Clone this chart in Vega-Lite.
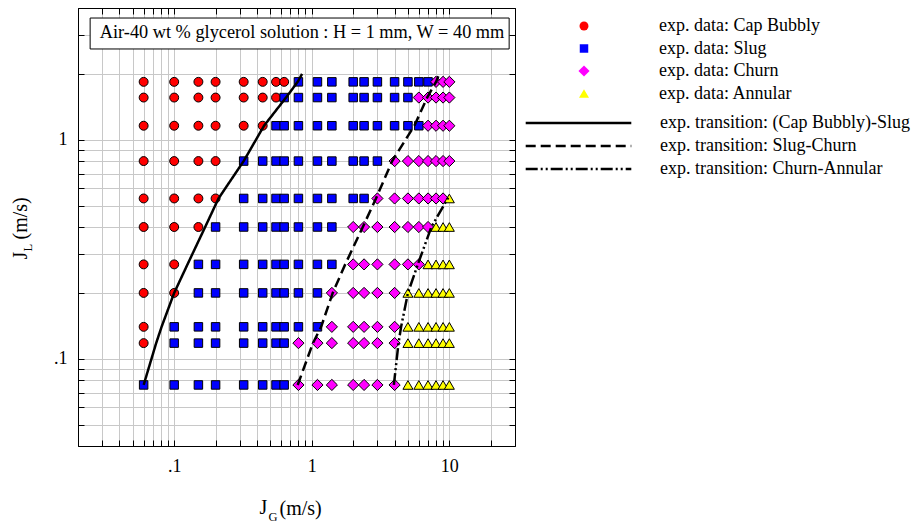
{
  "$schema": "https://vega.github.io/schema/vega-lite/v6.json",
  "width": 437,
  "height": 438,
  "padding": {"left": 10, "top": 7, "right": 5, "bottom": 2},
  "background": "white",
  "config": {
    "font": "Liberation Serif",
    "view": {"stroke": "black", "strokeWidth": 1},
    "axis": {"domainColor": "black", "domainWidth": 1, "tickColor": "black", "tickWidth": 1, "labelColor": "black", "titleColor": "black", "titleFontWeight": "normal", "labelFont": "Liberation Serif", "titleFont": "Liberation Serif"}
  },
  "datasets": {
    "pts": [
      {"x":0.06,"y":1.84,"r":"C"},{"x":0.1,"y":1.84,"r":"C"},{"x":0.15,"y":1.84,"r":"C"},{"x":0.2,"y":1.84,"r":"C"},{"x":0.32,"y":1.84,"r":"C"},{"x":0.44,"y":1.84,"r":"C"},{"x":0.55,"y":1.84,"r":"C"},{"x":0.63,"y":1.84,"r":"C"},
      {"x":0.8,"y":1.84,"r":"S"},{"x":1.1,"y":1.84,"r":"S"},{"x":1.4,"y":1.84,"r":"S"},{"x":2,"y":1.84,"r":"S"},{"x":2.4,"y":1.84,"r":"S"},{"x":3,"y":1.84,"r":"S"},{"x":4,"y":1.84,"r":"S"},{"x":5,"y":1.84,"r":"S"},{"x":6,"y":1.84,"r":"S"},{"x":7,"y":1.84,"r":"S"},
      {"x":8,"y":1.84,"r":"H"},{"x":9,"y":1.84,"r":"H"},{"x":10,"y":1.84,"r":"H"},

      {"x":0.06,"y":1.56,"r":"C"},{"x":0.1,"y":1.56,"r":"C"},{"x":0.15,"y":1.56,"r":"C"},{"x":0.2,"y":1.56,"r":"C"},{"x":0.32,"y":1.56,"r":"C"},{"x":0.44,"y":1.56,"r":"C"},{"x":0.55,"y":1.56,"r":"C"},
      {"x":0.63,"y":1.56,"r":"S"},{"x":0.8,"y":1.56,"r":"S"},{"x":1.1,"y":1.56,"r":"S"},{"x":1.4,"y":1.56,"r":"S"},{"x":2,"y":1.56,"r":"S"},{"x":2.4,"y":1.56,"r":"S"},{"x":3,"y":1.56,"r":"S"},{"x":4,"y":1.56,"r":"S"},{"x":5,"y":1.56,"r":"S"},
      {"x":6,"y":1.56,"r":"H"},{"x":7,"y":1.56,"r":"H"},{"x":8,"y":1.56,"r":"H"},{"x":9,"y":1.56,"r":"H"},{"x":10,"y":1.56,"r":"H"},

      {"x":0.06,"y":1.16,"r":"C"},{"x":0.1,"y":1.16,"r":"C"},{"x":0.15,"y":1.16,"r":"C"},{"x":0.2,"y":1.16,"r":"C"},{"x":0.32,"y":1.16,"r":"C"},{"x":0.44,"y":1.16,"r":"C"},
      {"x":0.55,"y":1.16,"r":"S"},{"x":0.63,"y":1.16,"r":"S"},{"x":0.8,"y":1.16,"r":"S"},{"x":1.1,"y":1.16,"r":"S"},{"x":1.4,"y":1.16,"r":"S"},{"x":2,"y":1.16,"r":"S"},{"x":2.4,"y":1.16,"r":"S"},{"x":3,"y":1.16,"r":"S"},{"x":4,"y":1.16,"r":"S"},{"x":5,"y":1.16,"r":"S"},{"x":6,"y":1.16,"r":"S"},
      {"x":7,"y":1.16,"r":"H"},{"x":8,"y":1.16,"r":"H"},{"x":9,"y":1.16,"r":"H"},{"x":10,"y":1.16,"r":"H"},

      {"x":0.06,"y":0.8,"r":"C"},{"x":0.1,"y":0.8,"r":"C"},{"x":0.15,"y":0.8,"r":"C"},{"x":0.2,"y":0.8,"r":"C"},
      {"x":0.32,"y":0.8,"r":"S"},{"x":0.44,"y":0.8,"r":"S"},{"x":0.55,"y":0.8,"r":"S"},{"x":0.63,"y":0.8,"r":"S"},{"x":0.8,"y":0.8,"r":"S"},{"x":1.1,"y":0.8,"r":"S"},{"x":1.4,"y":0.8,"r":"S"},{"x":2,"y":0.8,"r":"S"},{"x":2.4,"y":0.8,"r":"S"},{"x":3,"y":0.8,"r":"S"},
      {"x":4,"y":0.8,"r":"H"},{"x":5,"y":0.8,"r":"H"},{"x":6,"y":0.8,"r":"H"},{"x":7,"y":0.8,"r":"H"},{"x":8,"y":0.8,"r":"H"},{"x":9,"y":0.8,"r":"H"},{"x":10,"y":0.8,"r":"H"},

      {"x":0.06,"y":0.54,"r":"C"},{"x":0.1,"y":0.54,"r":"C"},{"x":0.15,"y":0.54,"r":"C"},{"x":0.2,"y":0.54,"r":"C"},
      {"x":0.32,"y":0.54,"r":"S"},{"x":0.44,"y":0.54,"r":"S"},{"x":0.55,"y":0.54,"r":"S"},{"x":0.63,"y":0.54,"r":"S"},{"x":0.8,"y":0.54,"r":"S"},{"x":1.1,"y":0.54,"r":"S"},{"x":1.4,"y":0.54,"r":"S"},{"x":2,"y":0.54,"r":"S"},{"x":2.4,"y":0.54,"r":"S"},
      {"x":3,"y":0.54,"r":"H"},{"x":4,"y":0.54,"r":"H"},{"x":5,"y":0.54,"r":"H"},{"x":6,"y":0.54,"r":"H"},{"x":7,"y":0.54,"r":"H"},{"x":8,"y":0.54,"r":"H"},{"x":9,"y":0.54,"r":"H"},
      {"x":10,"y":0.54,"r":"A"},

      {"x":0.06,"y":0.4,"r":"C"},{"x":0.1,"y":0.4,"r":"C"},{"x":0.15,"y":0.4,"r":"C"},
      {"x":0.2,"y":0.4,"r":"S"},{"x":0.32,"y":0.4,"r":"S"},{"x":0.44,"y":0.4,"r":"S"},{"x":0.55,"y":0.4,"r":"S"},{"x":0.63,"y":0.4,"r":"S"},{"x":0.8,"y":0.4,"r":"S"},{"x":1.1,"y":0.4,"r":"S"},{"x":1.4,"y":0.4,"r":"S"},
      {"x":2,"y":0.4,"r":"H"},{"x":2.4,"y":0.4,"r":"H"},{"x":3,"y":0.4,"r":"H"},{"x":4,"y":0.4,"r":"H"},{"x":5,"y":0.4,"r":"H"},{"x":6,"y":0.4,"r":"H"},{"x":7,"y":0.4,"r":"H"},
      {"x":8,"y":0.4,"r":"A"},{"x":9,"y":0.4,"r":"A"},{"x":10,"y":0.4,"r":"A"},

      {"x":0.06,"y":0.27,"r":"C"},{"x":0.1,"y":0.27,"r":"C"},
      {"x":0.15,"y":0.27,"r":"S"},{"x":0.2,"y":0.27,"r":"S"},{"x":0.32,"y":0.27,"r":"S"},{"x":0.44,"y":0.27,"r":"S"},{"x":0.55,"y":0.27,"r":"S"},{"x":0.63,"y":0.27,"r":"S"},{"x":0.8,"y":0.27,"r":"S"},{"x":1.1,"y":0.27,"r":"S"},{"x":1.4,"y":0.27,"r":"S"},
      {"x":2,"y":0.27,"r":"H"},{"x":2.4,"y":0.27,"r":"H"},{"x":3,"y":0.27,"r":"H"},{"x":4,"y":0.27,"r":"H"},{"x":5,"y":0.27,"r":"H"},{"x":6,"y":0.27,"r":"H"},
      {"x":7,"y":0.27,"r":"A"},{"x":8,"y":0.27,"r":"A"},{"x":9,"y":0.27,"r":"A"},{"x":10,"y":0.27,"r":"A"},

      {"x":0.06,"y":0.2,"r":"C"},{"x":0.1,"y":0.2,"r":"C"},
      {"x":0.15,"y":0.2,"r":"S"},{"x":0.2,"y":0.2,"r":"S"},{"x":0.32,"y":0.2,"r":"S"},{"x":0.44,"y":0.2,"r":"S"},{"x":0.55,"y":0.2,"r":"S"},{"x":0.63,"y":0.2,"r":"S"},{"x":0.8,"y":0.2,"r":"S"},{"x":1.1,"y":0.2,"r":"S"},
      {"x":1.4,"y":0.2,"r":"H"},{"x":2,"y":0.2,"r":"H"},{"x":2.4,"y":0.2,"r":"H"},{"x":3,"y":0.2,"r":"H"},{"x":4,"y":0.2,"r":"H"},
      {"x":5,"y":0.2,"r":"A"},{"x":6,"y":0.2,"r":"A"},{"x":7,"y":0.2,"r":"A"},{"x":8,"y":0.2,"r":"A"},{"x":9,"y":0.2,"r":"A"},{"x":10,"y":0.2,"r":"A"},

      {"x":0.06,"y":0.14,"r":"C"},
      {"x":0.1,"y":0.14,"r":"S"},{"x":0.15,"y":0.14,"r":"S"},{"x":0.2,"y":0.14,"r":"S"},{"x":0.32,"y":0.14,"r":"S"},{"x":0.44,"y":0.14,"r":"S"},{"x":0.55,"y":0.14,"r":"S"},{"x":0.63,"y":0.14,"r":"S"},{"x":0.8,"y":0.14,"r":"S"},{"x":1.1,"y":0.14,"r":"S"},
      {"x":1.4,"y":0.14,"r":"H"},{"x":2,"y":0.14,"r":"H"},{"x":2.4,"y":0.14,"r":"H"},{"x":3,"y":0.14,"r":"H"},{"x":4,"y":0.14,"r":"H"},
      {"x":5,"y":0.14,"r":"A"},{"x":6,"y":0.14,"r":"A"},{"x":7,"y":0.14,"r":"A"},{"x":8,"y":0.14,"r":"A"},{"x":9,"y":0.14,"r":"A"},{"x":10,"y":0.14,"r":"A"},

      {"x":0.06,"y":0.118,"r":"C"},
      {"x":0.1,"y":0.118,"r":"S"},{"x":0.15,"y":0.118,"r":"S"},{"x":0.2,"y":0.118,"r":"S"},{"x":0.32,"y":0.118,"r":"S"},{"x":0.44,"y":0.118,"r":"S"},{"x":0.55,"y":0.118,"r":"S"},{"x":0.63,"y":0.118,"r":"S"},
      {"x":0.8,"y":0.118,"r":"H"},{"x":1.1,"y":0.118,"r":"H"},{"x":1.4,"y":0.118,"r":"H"},{"x":2,"y":0.118,"r":"H"},{"x":2.4,"y":0.118,"r":"H"},{"x":3,"y":0.118,"r":"H"},{"x":4,"y":0.118,"r":"H"},
      {"x":5,"y":0.118,"r":"A"},{"x":6,"y":0.118,"r":"A"},{"x":7,"y":0.118,"r":"A"},{"x":8,"y":0.118,"r":"A"},{"x":9,"y":0.118,"r":"A"},{"x":10,"y":0.118,"r":"A"},

      {"x":0.06,"y":0.076,"r":"S"},{"x":0.1,"y":0.076,"r":"S"},{"x":0.15,"y":0.076,"r":"S"},{"x":0.2,"y":0.076,"r":"S"},{"x":0.32,"y":0.076,"r":"S"},{"x":0.44,"y":0.076,"r":"S"},{"x":0.55,"y":0.076,"r":"S"},{"x":0.63,"y":0.076,"r":"S"},
      {"x":0.8,"y":0.076,"r":"H"},{"x":1.1,"y":0.076,"r":"H"},{"x":1.4,"y":0.076,"r":"H"},{"x":2,"y":0.076,"r":"H"},{"x":2.4,"y":0.076,"r":"H"},{"x":3,"y":0.076,"r":"H"},{"x":4,"y":0.076,"r":"H"},
      {"x":5,"y":0.076,"r":"A"},{"x":6,"y":0.076,"r":"A"},{"x":7,"y":0.076,"r":"A"},{"x":8,"y":0.076,"r":"A"},{"x":9,"y":0.076,"r":"A"},{"x":10,"y":0.076,"r":"A"}
    ],
    "lines": [
      {"x":0.06,"y":0.076,"t":"CBS"},{"x":0.074,"y":0.118,"t":"CBS"},{"x":0.081,"y":0.14,"t":"CBS"},{"x":0.1,"y":0.2,"t":"CBS"},{"x":0.125,"y":0.27,"t":"CBS"},{"x":0.168,"y":0.4,"t":"CBS"},{"x":0.21,"y":0.54,"t":"CBS"},{"x":0.32,"y":0.8,"t":"CBS"},{"x":0.45,"y":1.16,"t":"CBS"},{"x":0.65,"y":1.56,"t":"CBS"},{"x":0.79,"y":1.84,"t":"CBS"},{"x":0.85,"y":2.0,"t":"CBS"},
      {"x":0.79,"y":0.076,"t":"SC"},{"x":1.02,"y":0.118,"t":"SC"},{"x":1.17,"y":0.14,"t":"SC"},{"x":1.42,"y":0.2,"t":"SC"},{"x":1.75,"y":0.27,"t":"SC"},{"x":2.35,"y":0.4,"t":"SC"},{"x":2.93,"y":0.54,"t":"SC"},{"x":3.84,"y":0.8,"t":"SC"},{"x":5.57,"y":1.16,"t":"SC"},{"x":6.9,"y":1.56,"t":"SC"},{"x":8.0,"y":1.84,"t":"SC"},{"x":8.45,"y":2.0,"t":"SC"},
      {"x":3.95,"y":0.076,"t":"CA"},{"x":4.27,"y":0.118,"t":"CA"},{"x":4.46,"y":0.14,"t":"CA"},{"x":5.0,"y":0.2,"t":"CA"},{"x":5.9,"y":0.27,"t":"CA"},{"x":7.4,"y":0.4,"t":"CA"},{"x":9.9,"y":0.55,"t":"CA"}
    ]
  },
  "resolve": {"axis": {"x": "independent", "y": "independent"}},
  "layer": [
    {
      "data": {"name": "pts"},
      "mark": {"type": "point", "filled": true, "stroke": "black", "strokeWidth": 1, "opacity": 1},
      "encoding": {
        "x": {"field": "x", "type": "quantitative",
          "scale": {"type": "log", "domain": [0.02, 30], "nice": false, "zero": false},
          "axis": {"orient": "bottom", "values": [0.03,0.04,0.05,0.06,0.07,0.08,0.09,0.1,0.2,0.3,0.4,0.5,0.6,0.7,0.8,0.9,1,2,3,4,5,6,7,8,9,10,20],
            "labelExpr": "datum.value == 0.1 ? '.1' : datum.value == 1 ? '1' : datum.value == 10 ? '10' : ''",
            "labelOverlap": false, "labelFlush": false, "labelFontSize": 18, "labelPadding": 17,
            "grid": true, "gridColor": "#c8c8c8", "gridWidth": 1, "tickSize": -6,
            "title": "J", "titleFontSize": 20, "titleAlign": "left", "titleBaseline": "alphabetic", "titleX": 181, "titleY": 67}},
        "y": {"field": "y", "type": "quantitative",
          "scale": {"type": "log", "domain": [0.04, 4], "nice": false, "zero": false},
          "axis": {"orient": "left", "values": [0.05,0.06,0.07,0.08,0.09,0.1,0.2,0.3,0.4,0.5,0.6,0.7,0.8,0.9,1,2,3],
            "labelExpr": "datum.value == 0.1 ? '.1' : datum.value == 1 ? '1' : ''",
            "labelOverlap": false, "labelFlush": false, "labelFontSize": 18, "labelPadding": 17,
            "grid": true, "gridColor": "#c8c8c8", "gridWidth": 1, "tickSize": -6,
            "title": "J", "titleFontSize": 20, "titleAngle": 270, "titleAlign": "left", "titleBaseline": "alphabetic", "titleX": -52, "titleY": 251}},
        "size": {"field": "r", "type": "nominal",
          "scale": {"type": "ordinal", "domain": ["C", "S", "H", "A"], "range": [80, 72, 125, 100]},
          "legend": {"title": null, "orient": "none", "legendX": 497, "legendY": 9, "padding": 0, "symbolStrokeColor": "black", "symbolStrokeWidth": 1, "symbolOpacity": 1, "labelOffset": 66, "rowPadding": 4.5, "labelFont": "Liberation Serif", "labelFontSize": 18, "labelColor": "black", "labelLimit": 400,
            "labelExpr": "datum.label == 'C' ? 'exp. data: Cap Bubbly' : datum.label == 'S' ? 'exp. data: Slug' : datum.label == 'H' ? 'exp. data: Churn' : 'exp. data: Annular'"}},
        "shape": {"field": "r", "type": "nominal",
          "scale": {"domain": ["C", "S", "H", "A"], "range": ["circle", "square", "diamond", "triangle-up"]},
          "legend": {"title": null, "orient": "none", "legendX": 497, "legendY": 9, "padding": 0, "symbolStrokeColor": "black", "symbolStrokeWidth": 1, "symbolOpacity": 1, "labelOffset": 66, "rowPadding": 4.5, "labelFont": "Liberation Serif", "labelFontSize": 18, "labelColor": "black", "labelLimit": 400,
            "labelExpr": "datum.label == 'C' ? 'exp. data: Cap Bubbly' : datum.label == 'S' ? 'exp. data: Slug' : datum.label == 'H' ? 'exp. data: Churn' : 'exp. data: Annular'"}},
        "fill": {"field": "r", "type": "nominal",
          "scale": {"domain": ["C", "S", "H", "A"], "range": ["#ff0000", "#0000ff", "#ff00ff", "#ffff00"]},
          "legend": {"title": null, "orient": "none", "legendX": 497, "legendY": 9, "padding": 0, "symbolStrokeColor": "black", "symbolStrokeWidth": 1, "symbolOpacity": 1, "labelOffset": 66, "rowPadding": 4.5, "labelFont": "Liberation Serif", "labelFontSize": 18, "labelColor": "black", "labelLimit": 400,
            "labelExpr": "datum.label == 'C' ? 'exp. data: Cap Bubbly' : datum.label == 'S' ? 'exp. data: Slug' : datum.label == 'H' ? 'exp. data: Churn' : 'exp. data: Annular'"}}
      }
    },
    {
      "data": {"name": "lines"},
      "mark": {"type": "line", "color": "black", "strokeWidth": 2.5},
      "encoding": {
        "x": {"field": "x", "type": "quantitative",
          "axis": {"orient": "top", "values": [0.03,0.04,0.05,0.06,0.07,0.08,0.09,0.1,0.2,0.3,0.4,0.5,0.6,0.7,0.8,0.9,1,2,3,4,5,6,7,8,9,10,20],
            "labels": false, "grid": false, "tickSize": -6,
            "title": "G", "titleFontSize": 12.5, "titleAlign": "left", "titleBaseline": "alphabetic", "titleAngle": 0, "titleX": 190, "titleY": 512}},
        "y": {"field": "y", "type": "quantitative",
          "axis": {"orient": "right", "values": [0.05,0.06,0.07,0.08,0.09,0.1,0.2,0.3,0.4,0.5,0.6,0.7,0.8,0.9,1,2,3],
            "labels": false, "grid": false, "tickSize": -6,
            "title": "L", "titleFontSize": 12.5, "titleAngle": 270, "titleAlign": "left", "titleBaseline": "alphabetic", "titleX": -484, "titleY": 243}},
        "strokeDash": {"field": "t", "type": "nominal",
          "scale": {"domain": ["CBS", "SC", "CA"], "range": [[1, 0], [10, 5], [12, 3, 2, 3, 2, 3]]},
          "legend": {"title": null, "orient": "none", "legendX": 491.5, "legendY": 106, "padding": 0, "symbolType": "M-9.6,0H9.6", "symbolSize": 121, "symbolStrokeWidth": 2.5, "symbolStrokeColor": "black", "symbolFillColor": "transparent", "labelOffset": 72.5, "rowPadding": 5, "labelFont": "Liberation Serif", "labelFontSize": 18, "labelColor": "black", "labelLimit": 400,
            "labelExpr": "datum.label == 'CBS' ? 'exp. transition: (Cap Bubbly)-Slug' : datum.label == 'SC' ? 'exp. transition: Slug-Churn' : 'exp. transition: Churn-Annular'"}}
      }
    },
    {
      "data": {"values": [{}]},
      "mark": {"type": "rect", "fill": "white", "stroke": "black", "strokeWidth": 1},
      "encoding": {
        "x": {"datum": 0.0245, "type": "quantitative",
          "axis": {"orient": "top", "ticks": false, "labels": false, "domain": false, "grid": false,
            "title": "(m/s)", "titleFontSize": 20, "titleAlign": "left", "titleBaseline": "alphabetic", "titleAngle": 0, "titleX": 201, "titleY": 506}},
        "x2": {"datum": 27.2},
        "y": {"datum": 3.6, "type": "quantitative",
          "axis": {"orient": "right", "ticks": false, "labels": false, "domain": false, "grid": false,
            "title": "(m/s)", "titleFontSize": 20, "titleAngle": 270, "titleAlign": "left", "titleBaseline": "alphabetic", "titleX": -489, "titleY": 231}},
        "y2": {"datum": 2.6}
      }
    },
    {
      "data": {"values": [{}]},
      "mark": {"type": "text", "font": "Liberation Serif", "fontSize": 18.3, "color": "black"},
      "encoding": {
        "x": {"datum": 0.85, "type": "quantitative", "axis": null},
        "y": {"datum": 3.06, "type": "quantitative", "axis": null},
        "text": {"value": "Air-40 wt % glycerol solution : H = 1 mm, W = 40 mm"}
      }
    }
  ]
}
